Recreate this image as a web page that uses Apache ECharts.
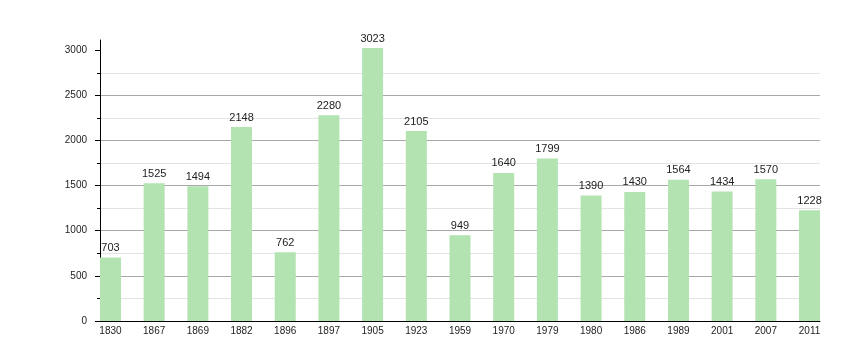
<!DOCTYPE html>
<html>
<head>
<meta charset="utf-8">
<script src="https://cdn.jsdelivr.net/npm/echarts@6/dist/echarts.min.js"></script>
<style>html,body{margin:0;padding:0;background:#fff}#c{width:860px;height:360px}</style>
</head>
<body>
<div id="c"></div>
<script>
const categories = ['1830','1867','1869','1882','1896','1897','1905','1923','1959','1970','1979','1980','1986','1989','2001','2007','2011'];
const population = [703,1525,1494,2148,762,2280,3023,2105,949,1640,1799,1390,1430,1564,1434,1570,1228];
const yMajorTicks = [0,500,1000,1500,2000,2500,3000];
const yMinorTicks = [0,250,500,750,1000,1250,1500,1750,2000,2250,2500,2750,3000];

const chart = echarts.init(document.getElementById('c'), null, {renderer:'canvas'});
const font = 'Liberation Sans, Arial, sans-serif';
chart.setOption({
  animation: false,
  backgroundColor: '#fff',
  grid: {left: 100, right: 40, top: 40, bottom: 39, containLabel: false},
  xAxis: {
    type: 'value', min: -0.24, max: categories.length - 1 + 0.24,
    axisLine: {show: true, onZero: false, lineStyle: {color: '#000', width: 1}},
    axisTick: {show: false},
    splitLine: {show: false},
    axisLabel: {
      customValues: categories.map((c, i) => i),
      formatter: v => categories[Math.round(v)] || '',
      color: '#222', fontSize: 10, fontFamily: font, margin: 5
    }
  },
  yAxis: [{
    type: 'value', min: 0, max: 3113, interval: 250,
    axisLine: {show: true, onZero: false, lineStyle: {color: '#000', width: 1}},
    axisTick: {show: true, customValues: yMinorTicks, length: 3, lineStyle: {color: '#000'}},
    axisLabel: {customValues: yMajorTicks, formatter: v => String(v), color: '#222', fontSize: 10, fontFamily: font, margin: 13},
    splitLine: {show: true, showMaxLine: false, lineStyle: {color: ['#a8a8a8', '#e3e3e3'], width: 1}}
  }, {
    type: 'value', min: 0, max: 3113, position: 'left', offset: 0,
    axisLine: {show: false, onZero: false},
    axisTick: {show: true, customValues: yMajorTicks, length: 5, lineStyle: {color: '#000'}},
    axisLabel: {show: false},
    splitLine: {show: false}
  }],
  series: [{
    type: 'bar',
    barWidth: 21,
    data: population.map((v, i) => [i, v]),
    itemStyle: {color: '#b2e3b0'},
    label: {show: true, position: 'top', distance: 4, color: '#222', fontSize: 11, fontFamily: font,
      formatter: p => p.value[1]}
  }]
});
</script>
</body>
</html>
